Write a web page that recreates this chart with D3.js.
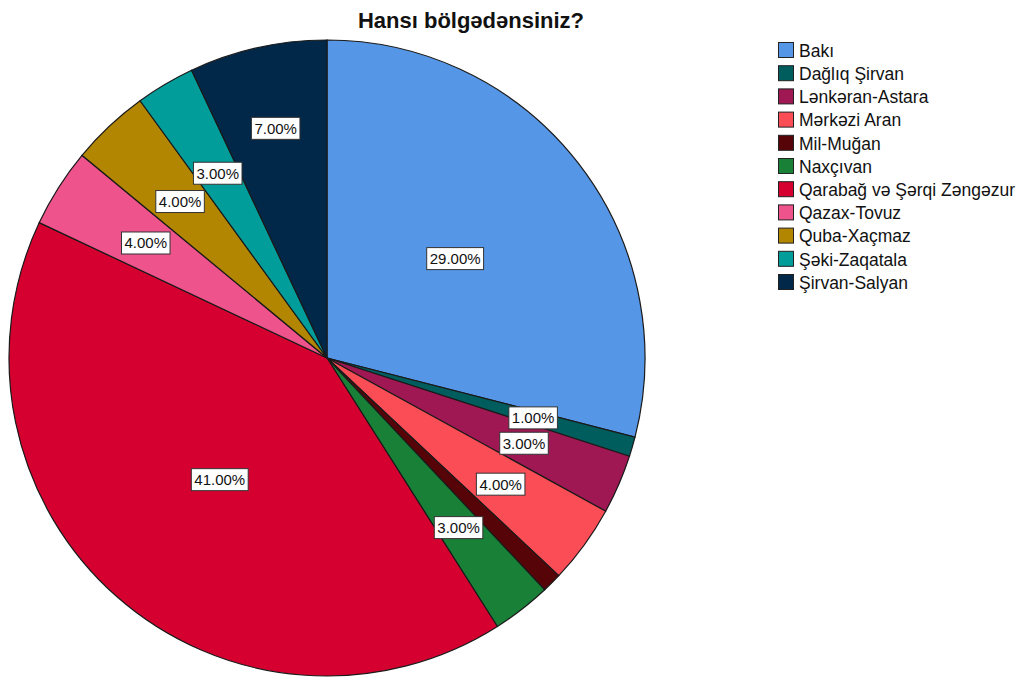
<!DOCTYPE html>
<html><head><meta charset="utf-8">
<script src="https://cdn.jsdelivr.net/npm/d3@7"></script>
<style>body{margin:0;background:#fff}svg{display:block}</style>
</head><body>
<svg id="c" width="1022" height="681"></svg>
<script>
const title = "Hansı bölgədənsiniz?";
const categories = ["Bakı","Dağlıq Şirvan","Lənkəran-Astara","Mərkəzi Aran","Mil-Muğan","Naxçıvan","Qarabağ və Şərqi Zəngəzur","Qazax-Tovuz","Quba-Xaçmaz","Şəki-Zaqatala","Şirvan-Salyan"];
const values = [29,1,3,4,1,3,41,4,4,3,7];
const colors = ["#5596e6","#005d5d","#9f1853","#fa4d56","#570408","#198038","#d60030","#ee538b","#b28600","#009d9a","#012749"];
const showLabel = [true,true,true,true,false,true,true,true,true,true,true];

const svg = d3.select("#c");
const cx = 327, cy = 358, R = 318;
const font = "'Liberation Sans', Arial, sans-serif";

svg.append("text").attr("x", 471).attr("y", 28).attr("text-anchor","middle")
  .attr("font-family", font).attr("font-weight","bold").attr("font-size", 22).attr("fill","#111").text(title);

const data = categories.map((c,i)=>({c, v: values[i], col: colors[i], show: showLabel[i]}));
const pie = d3.pie().value(d=>d.v).sort(null);
const arcs = pie(data);
const arc = d3.arc().innerRadius(0).outerRadius(R);
const g = svg.append("g").attr("transform", `translate(${cx},${cy})`);
g.selectAll("path").data(arcs).enter().append("path")
  .attr("d", arc).attr("fill", d=>d.data.col).attr("stroke","#1a1a1a").attr("stroke-width",1.2);

const total = d3.sum(values);
function labelFrac(p){ if(p>=20) return 0.51; if(p>=6) return 0.74; return 0.675; }
const fmt = d=> (d.data.v/total*100).toFixed(2)+"%";
arcs.filter(a=>a.data.show).forEach(a=>{
  const mid = (a.startAngle+a.endAngle)/2;
  const r = R*labelFrac(a.data.v/total*100);
  const x = Math.sin(mid)*r, y = -Math.cos(mid)*r;
  const lg = g.append("g").attr("transform",`translate(${x},${y})`);
  const t = lg.append("text").attr("text-anchor","middle").attr("dy","0.36em")
    .attr("font-family", font).attr("font-size", 15).attr("fill","#111").text(fmt(a));
  const bb = t.node().getBBox();
  lg.insert("rect","text").attr("x", bb.x-3).attr("y", -11).attr("width", bb.width+6).attr("height", 22)
    .attr("fill","#fff").attr("stroke","#333").attr("stroke-width",1);
});

const leg = svg.append("g").attr("transform","translate(778,42)");
const step = 23.2;
categories.forEach((c,i)=>{
  const row = leg.append("g").attr("transform",`translate(0,${i*step})`);
  row.append("rect").attr("x",0.5).attr("y",0.5).attr("width",15).attr("height",15)
    .attr("fill", colors[i]).attr("stroke","#222").attr("stroke-width",1);
  row.append("text").attr("x",21).attr("y",8.5).attr("dy","0.36em")
    .attr("font-family", font).attr("font-size",17.5).attr("fill","#111").text(c);
});
</script>
</body></html>
